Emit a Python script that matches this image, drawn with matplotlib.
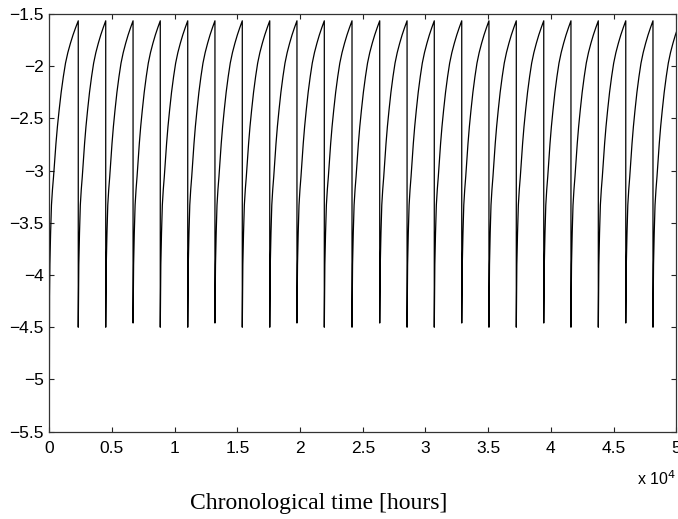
import numpy as np
import matplotlib
matplotlib.use("Agg")
import matplotlib.pyplot as plt

# times [hours] where the curve drops back down
drop_times = [2310, 4500, 6680, 8850, 11040, 13210, 15390, 17580, 19750, 21930,
              24140, 26350, 28530, 30700, 32890, 35060, 37240, 39430, 41600,
              43780, 45970, 48140]
# lowest value right after each drop
bottoms = [-4.50, -4.50, -4.46, -4.50, -4.50, -4.46, -4.50, -4.50, -4.46, -4.50,
           -4.50, -4.46, -4.50, -4.50, -4.46, -4.50, -4.50, -4.46, -4.50, -4.50,
           -4.46, -4.50]
start_value = -5.5
peak_value = -1.565

# shape of one recovery cycle: fraction of cycle length -> value
cycle_frac = [0.008, 0.02, 0.045, 0.075, 0.11, 0.146, 0.19, 0.23, 0.28, 0.34,
              0.41, 0.485, 0.56, 0.64, 0.73, 0.82, 0.91]
cycle_vals = [-4.2, -3.9, -3.6, -3.33, -3.18, -3.06, -2.89, -2.74, -2.58, -2.42,
              -2.25, -2.10, -1.97, -1.87, -1.78, -1.70, -1.63]

regular_period = 2182

xticks = [0, 5000, 10000, 15000, 20000, 25000, 30000, 35000, 40000, 45000, 50000]
xticklabels = ['0', '0.5', '1', '1.5', '2', '2.5', '3', '3.5', '4', '4.5', '5']
yticks = [-5.5, -5, -4.5, -4, -3.5, -3, -2.5, -2, -1.5]
yticklabels = ['\u22125.5', '\u22125', '\u22124.5', '\u22124', '\u22123.5',
               '\u22123', '\u22122.5', '\u22122', '\u22121.5']

# build the line
t = [0]
y = [start_value]
starts = [0] + drop_times
lows = [start_value] + bottoms
for i in range(len(starts)):
    t0 = starts[i]
    if i + 1 < len(starts):
        length = starts[i + 1] - t0
    else:
        length = regular_period
    if i > 0:
        t.append(t0)
        y.append(lows[i])
    for f, v in zip(cycle_frac, cycle_vals):
        t.append(t0 + f * length)
        y.append(v)
    t.append(t0 + length)
    y.append(peak_value)

plt.rcParams['font.family'] = ['Liberation Sans', 'DejaVu Sans']

fig = plt.figure(figsize=(6.78, 5.19), dpi=100)
ax = fig.add_axes([0.0727, 0.1684, 0.9248, 0.8046])
ax.plot(t, y, color='black', lw=0.9)

ax.set_xlim(0, 50000)
ax.set_ylim(-5.5, -1.5)
ax.set_xticks(xticks)
ax.set_xticklabels(xticklabels)
ax.set_yticks(yticks)
ax.set_yticklabels(yticklabels)
ax.tick_params(direction='in', length=3.6, width=0.8, labelsize=12.5,
               top=True, right=True, colors='#222222', labelcolor='black')
ax.tick_params(axis='x', pad=7)
ax.tick_params(axis='y', pad=4)
for s in ax.spines.values():
    s.set_linewidth(0.9)
    s.set_color('#333333')

fig.text(676 / 678, 1 - 479 / 519, 'x 10$^4$', ha='right', va='center', fontsize=11.5)
fig.text(319 / 678, 1 - 503 / 519, 'Chronological time [hours]', ha='center',
         va='center', fontsize=17, family=['Liberation Serif', 'DejaVu Serif'])

fig.savefig('out.png', dpi=100)
